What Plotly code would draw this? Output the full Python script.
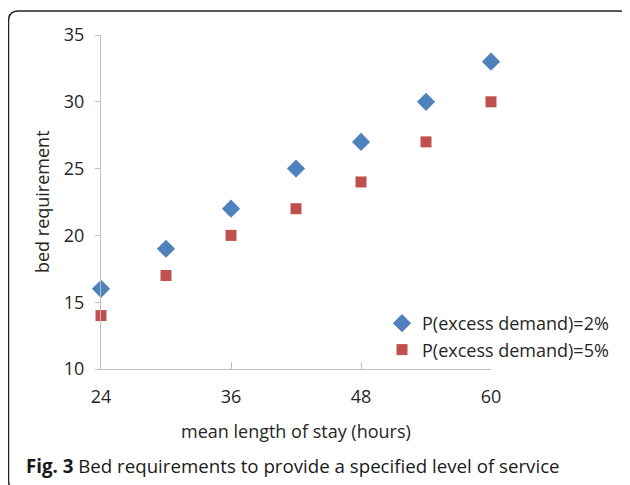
import plotly.graph_objects as go

# Data
stay_hours = [24, 30, 36, 42, 48, 54, 60]
beds_2pct = [16, 19, 22, 25, 27, 30, 33]
beds_5pct = [14, 17, 20, 22, 24, 27, 30]
series_names = ["P(excess demand)=2%", "P(excess demand)=5%"]
x_ticks = [24, 36, 48, 60]
y_ticks = [10, 15, 20, 25, 30, 35]

# The page body has an 8px margin; work in page pixels and convert.
OFF = 8
W, H = 630 - OFF, 485 - OFF
L, R, T, B = 101, 491, 35, 369  # plot area in page pixels

def px(x):
    return (x - L) / (R - L)

def py(y):
    return (B - y) / (B - T)

fig = go.Figure()
fig.add_trace(go.Scatter(
    x=stay_hours, y=beds_2pct, mode="markers", name=series_names[0],
    legendgroup="a", cliponaxis=False,
    marker=dict(symbol="diamond", size=14, color="#4F81BD", line=dict(width=0)),
))
fig.add_trace(go.Scatter(
    x=stay_hours, y=beds_5pct, mode="markers", name=series_names[1],
    legendgroup="b", cliponaxis=False,
    marker=dict(symbol="square", size=11, color="#C0504D", line=dict(width=0)),
))

font_main = "Open Sans, Noto Sans, sans-serif"
fig.update_layout(
    width=W, height=H,
    margin=dict(l=L - OFF, r=W - (R - OFF), t=T - OFF, b=H - (B - OFF), pad=0,
                autoexpand=False),
    paper_bgcolor="white", plot_bgcolor="white",
    font=dict(family=font_main, size=15, color="#262626"),
    showlegend=True,
    legend=dict(x=px(382), y=py(305), xanchor="left", yanchor="top",
                bgcolor="rgba(0,0,0,0)", font=dict(size=18, color="#262626"),
                traceorder="grouped", tracegroupgap=0, itemwidth=30),
    xaxis=dict(range=[24, 60], tickvals=x_ticks, ticks="inside", ticklen=7,
               tickcolor="#BFBFBF", showline=True, linecolor="#BFBFBF",
               linewidth=1, showgrid=False, zeroline=False, automargin=False,
               tickfont=dict(size=18), ticklabelstandoff=11),
    yaxis=dict(range=[10, 35], tickvals=y_ticks, ticks="outside", ticklen=5,
               tickcolor="#BFBFBF", showline=True, linecolor="#BFBFBF",
               linewidth=1, showgrid=False, zeroline=False, automargin=False,
               tickfont=dict(size=18), ticklabelstandoff=7),
)

# axis titles and caption
fig.add_annotation(text="mean length of stay (hours)", xref="paper", yref="paper",
                   x=px(296), y=py(431), showarrow=False,
                   font=dict(size=18, color="#262626"), xanchor="center", yanchor="middle")
fig.add_annotation(text="bed requirement", xref="paper", yref="paper",
                   x=px(42), y=py(202), showarrow=False, textangle=-90,
                   font=dict(size=18, color="#262626"), xanchor="center", yanchor="middle")
fig.add_annotation(text="<b>Fig. 3</b> Bed requirements to provide a specified level of service",
                   xref="paper", yref="paper", x=px(24), y=py(465), showarrow=False,
                   font=dict(size=18.7, color="#1a1a1a"), xanchor="left", yanchor="middle")

# rounded frame (bottom edge lies just beyond the visible page)
x0, x1 = px(8.5), px(629.5)
y1, y0 = py(11), py(490)
rx, ry = 10 / (R - L), 10 / (B - T)
path = (f"M {x0+rx},{y1} L {x1-rx},{y1} Q {x1},{y1} {x1},{y1-ry} "
        f"L {x1},{y0+ry} Q {x1},{y0} {x1-rx},{y0} L {x0+rx},{y0} "
        f"Q {x0},{y0} {x0},{y0+ry} L {x0},{y1-ry} Q {x0},{y1} {x0+rx},{y1} Z")
fig.add_shape(type="path", path=path, xref="paper", yref="paper",
              line=dict(color="#222222", width=1.5), layer="below")

fig.write_html("out.html")
